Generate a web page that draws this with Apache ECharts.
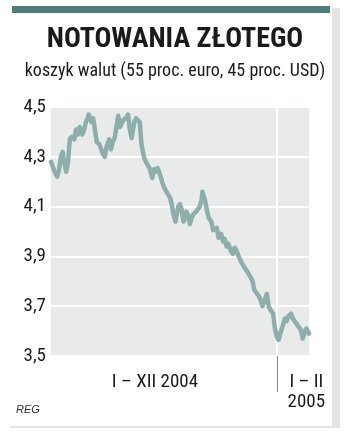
<!DOCTYPE html>
<html>
<head>
<meta charset="utf-8">
<script src="https://cdn.jsdelivr.net/npm/echarts@6/dist/echarts.min.js"></script>
<style>
html,body{margin:0;padding:0;background:#fff;}
#c{width:350px;height:436px;}
</style>
</head>
<body>
<div id="c"></div>
<script>
// trading-day index (0 = first session of 2004) and basket value (PLN)
const days = [0,2,4,7,9,11,13,14,17,19,21,23,26,28,30,32,35,37,39,41,42,45,47,49,51,54,56,58,60,62,65,67,69,71,74,75,77,79,81,84,86,88,90,93,95,97,99,101,104,106,108,110,113,115,117,119,122,124,126,128,130,133,135,137,139,142,144,146,148,151,153,155,157,159,162,164,166,168,169,172,174,176,179,181,183,185,187,190,192,194,196,198,201,203,205,207,210,212,214,216,219,221,223,225,227,230,232,234,236,239,241,243,245,248,250,252,254,256,259,261,263,265,268,270,272,274,276,279,281,283,285,288];
const values = [4.28,4.26,4.24,4.22,4.25,4.30,4.32,4.29,4.24,4.28,4.37,4.38,4.37,4.41,4.39,4.42,4.39,4.41,4.44,4.455,4.47,4.44,4.455,4.41,4.36,4.35,4.33,4.31,4.30,4.34,4.37,4.33,4.36,4.375,4.44,4.465,4.42,4.415,4.45,4.455,4.47,4.41,4.375,4.44,4.455,4.45,4.44,4.35,4.295,4.28,4.28,4.255,4.215,4.25,4.24,4.255,4.225,4.20,4.18,4.165,4.16,4.135,4.105,4.065,4.04,4.10,4.11,4.085,4.04,4.08,4.065,4.03,4.055,4.07,4.08,4.085,4.10,4.125,4.16,4.125,4.085,4.055,4.04,4.005,4.0,4.015,3.975,3.99,3.96,3.97,3.94,3.95,3.92,3.91,3.935,3.925,3.895,3.88,3.88,3.855,3.84,3.84,3.815,3.80,3.765,3.75,3.74,3.725,3.70,3.73,3.75,3.70,3.685,3.67,3.61,3.58,3.565,3.59,3.625,3.65,3.64,3.66,3.67,3.65,3.64,3.645,3.62,3.605,3.57,3.595,3.61,3.59];
const yearBoundary = 252;          // first session of 2005
const periodLabels = ['I – XII 2004', 'I – II\n2005'];
const periodLabelAt = [116, 285];

const FONT = '"Liberation Sans Narrow","Roboto Condensed","Liberation Sans",Arial,sans-serif';
const chart = echarts.init(document.getElementById('c'), null, {renderer:'canvas'});
const data = days.map((d,i)=>[d, values[i]]);

chart.setOption({
  animation:false,
  backgroundColor:'#ffffff',
  graphic:[
    {type:'rect', z:-10, shape:{x:10,y:8,width:330,height:420}, style:{fill:'#e4e4e4'}},
    {type:'rect', z:-9, shape:{x:8,y:6,width:324,height:420}, style:{fill:'#ffffff'}},
    {type:'rect', z:-8, shape:{x:12,y:6,width:318,height:7}, style:{fill:'#4e7d79'}},
    {type:'text', left:16, top:404, style:{text:'REG', font:'italic 11px "Liberation Sans",Arial,sans-serif', fill:'#333'}}
  ],
  title:{
    text:'NOTOWANIA ZŁOTEGO',
    subtext:'koszyk walut (55 proc. euro, 45 proc. USD)',
    left:'center', top:21, itemGap:8,
    textStyle:{fontFamily:FONT, fontWeight:'bold', fontSize:28, color:'#1a1a1a'},
    subtextStyle:{fontFamily:FONT, fontSize:18, color:'#1a1a1a'}
  },
  grid:{left:51, right:41, top:107, bottom:80, show:true, backgroundColor:'#e9eaea', borderWidth:0},
  xAxis:{
    type:'value', min:0, max:days[days.length-1],
    axisLine:{show:false},
    splitLine:{show:false},
    axisTick:{show:true, customValues:[yearBoundary], length:36, lineStyle:{color:'#888', width:1}},
    axisLabel:{show:true, customValues:periodLabelAt, margin:16, fontFamily:FONT, fontSize:19, color:'#1a1a1a', lineHeight:20,
      formatter:(v)=>periodLabels[periodLabelAt.indexOf(v)] || ''}
  },
  yAxis:{
    type:'value', min:3.5, max:4.5, interval:0.2,
    axisLine:{show:false}, axisTick:{show:false},
    splitLine:{show:true, lineStyle:{color:'#ffffff', width:2}},
    axisLabel:{margin:5, fontFamily:FONT, fontSize:19, color:'#1a1a1a',
      formatter:(v)=>v.toFixed(1).replace('.',',')}
  },
  series:[{
    type:'line', data:data, symbol:'none', smooth:false,
    lineStyle:{color:'#8cafac', width:4.5, join:'round', cap:'round'},
    markLine:{silent:true, symbol:'none', label:{show:false},
      lineStyle:{color:'#ffffff', width:2, type:'solid'},
      data:[{xAxis:yearBoundary}], z:1},
    z:3
  }]
});
</script>
</body>
</html>
